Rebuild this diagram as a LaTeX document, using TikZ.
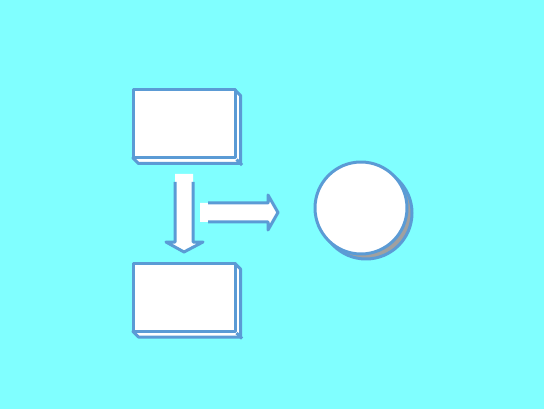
\documentclass[tikz,border=0pt]{standalone}
\usepackage{tikz}
\usetikzlibrary{positioning}
\usepackage{xcolor}
\definecolor{bgcyan}{HTML}{80FFFF}
\definecolor{edgeblue}{HTML}{5B9BD5}
\definecolor{shadowgray}{HTML}{A0A0A0}

\begin{document}
\begin{tikzpicture}[x=1pt, y=-1pt,
    outline/.style={draw=edgeblue, line width=3pt, line join=round},
    face/.style={outline, fill=white, rectangle, inner sep=0pt, minimum width=102pt, minimum height=68pt},
    side/.style={outline, fill=white}]
\fill[bgcyan] (0,0) rectangle (544,409);
\useasboundingbox (0,0) rectangle (544,409);
% boxes with a thin side
\foreach \name/\cy in {topbox/124, lowbox/297.5}{
    \filldraw[side] (184+51,\cy-34) -- ++(5.5,5.5) -- ++(0,68) -- ++(-102,0) -- ++(-5.5,-5.5) -- cycle;
    \node[face] (\name) at (184,\cy) {};
    \draw[outline] (\name.south east) -- ++(5.5,5.5);
}
% circle and its shadow
\filldraw[outline, fill=shadowgray] (366,213) circle (46);
\node[outline, fill=white, circle, inner sep=0pt, minimum size=92pt] (disc) at (361,208) {};
% arrow down
\coordinate (downtail) at (184,174);
\fill[white] (175,174) -- (175,242) -- (166,242) -- (184,252) -- (203,242) -- (193,242) -- (193,174) -- cycle;
\draw[outline] (175,182) -- (175,242) -- (166,242) -- (184,252) -- (203,242) -- (193,242) -- (193,182);
% arrow right
\coordinate (righttail) at (200,212.5);
\fill[white] (200,203) -- (268,203) -- (268,195) -- (278,212.5) -- (268,230) -- (268,222) -- (200,222) -- cycle;
\draw[outline] (208,203) -- (268,203) -- (268,195) -- (278,212.5) -- (268,230) -- (268,222) -- (208,222);
\end{tikzpicture}
\end{document}
